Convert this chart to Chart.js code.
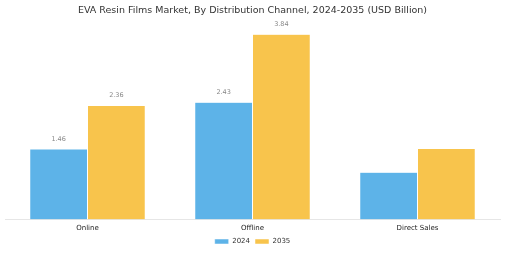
<!DOCTYPE html>
<html>
<head>
<meta charset="utf-8">
<script src="https://cdn.jsdelivr.net/npm/chart.js@4"></script>
<style>
  html, body { margin: 0; padding: 0; background: #fff; }
  #wrap { width: 505px; height: 253px; }
</style>
</head>
<body>
<div id="wrap"><canvas id="myChart"></canvas></div>
<script>
const categories = ["Online", "Offline", "Direct Sales"];
const values2024 = [1.46, 2.43, 0.98];
const values2035 = [2.36, 3.84, 1.47];
// only these bars carry a value label in the original
const showLabel2024 = [true, true, false];
const showLabel2035 = [true, true, false];

// draws the small grey numbers above the bars
const valueLabels = {
  id: 'valueLabels',
  afterDatasetsDraw(chart) {
    const ctx = chart.ctx;
    const flags = [showLabel2024, showLabel2035];
    ctx.save();
    ctx.font = '6.5px "DejaVu Sans"';
    ctx.fillStyle = '#888';
    ctx.textAlign = 'center';
    ctx.textBaseline = 'bottom';
    chart.data.datasets.forEach((ds, i) => {
      chart.getDatasetMeta(i).data.forEach((bar, j) => {
        if (!flags[i][j]) return;
        ctx.fillText(ds.data[j].toFixed(2), bar.x, bar.y - 7);
      });
    });
    ctx.restore();
  }
};

const canvas = document.getElementById('myChart').getContext('2d');
const myChart = new Chart(canvas, {
  type: 'bar',
  data: {
    labels: categories,
    datasets: [
      {
        label: '2024',
        data: values2024,
        backgroundColor: '#5DB3E8',
        borderColor: '#ffffff',
        borderWidth: 0.5
      },
      {
        label: '2035',
        data: values2035,
        backgroundColor: '#F8C44C',
        borderColor: '#ffffff',
        borderWidth: 0.5
      }
    ]
  },
  options: {
    responsive: true,
    maintainAspectRatio: false,
    animation: false,
    layout: { padding: { left: 5, right: 5, top: 0, bottom: -2 } },
    plugins: {
      title: {
        display: true,
        text: 'EVA Resin Films Market, By Distribution Channel, 2024-2035 (USD Billion)',
        color: '#333',
        font: { family: 'DejaVu Sans', size: 9.5, weight: 'normal' },
        padding: { top: 5, bottom: 10 }
      },
      legend: {
        position: 'bottom',
        labels: {
          boxWidth: 14,
          boxHeight: 5,
          color: '#333',
          font: { family: 'DejaVu Sans', size: 7 },
          padding: 5
        }
      },
      tooltip: { enabled: false }
    },
    datasets: {
      bar: { categoryPercentage: 0.7, barPercentage: 1.0 }
    },
    scales: {
      x: {
        grid: { display: false, drawTicks: true, tickLength: 3 },
        border: { color: '#e6e6e6', width: 1 },
        ticks: { color: '#222', font: { family: 'DejaVu Sans', size: 7 }, padding: 1 }
      },
      y: {
        display: false,
        beginAtZero: true,
        max: 4.0
      }
    }
  },
  plugins: [valueLabels]
});
</script>
</body>
</html>
